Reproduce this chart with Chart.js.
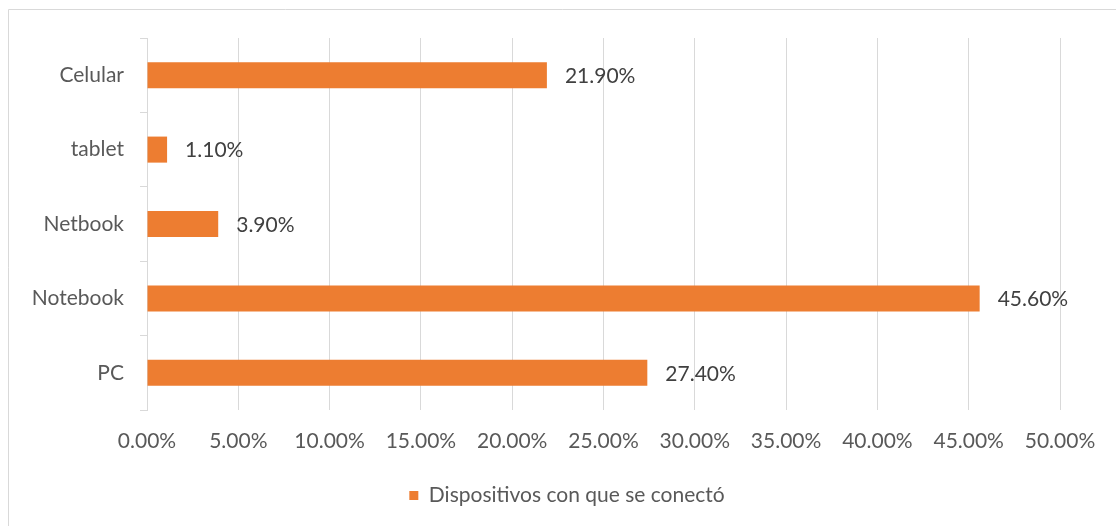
<!DOCTYPE html>
<html>
<head>
<meta charset="utf-8">
<script src="https://cdn.jsdelivr.net/npm/chart.js@4"></script>
<style>
  html, body { margin: 0; padding: 0; background: #fff; }
  #wrap { width: 1116px; height: 526px; }
</style>
</head>
<body>
<div id="wrap"><canvas id="miGrafica"></canvas></div>
<script>
// datos de la gráfica
var categorias = ["Celular", "tablet", "Netbook", "Notebook", "PC"];
var valores = [21.9, 1.1, 3.9, 45.6, 27.4];
var serie = "Dispositivos con que se conectó";
var ticksX = [0, 5, 10, 15, 20, 25, 30, 35, 40, 45, 50];

var naranja = "#ED7D31";
var gris = "#d9d9d9";
var fuente = "Lato, 'Open Sans', sans-serif";

// marco del gráfico (borde superior e izquierdo)
var marco = {
  id: "marco",
  beforeDraw: function(chart) {
    var c = chart.ctx;
    c.save();
    c.strokeStyle = gris;
    c.lineWidth = 1;
    c.beginPath();
    c.moveTo(8.5, chart.height);
    c.lineTo(8.5, 9.5);
    c.lineTo(chart.width, 9.5);
    c.stroke();
    c.restore();
  }
};

// centra la leyenda en todo el lienzo (no solo en el área con padding)
var centrarLeyenda = {
  id: "centrarLeyenda",
  afterLayout: function(chart) {
    var l = chart.legend;
    if (!l) return;
    var dx = 37;
    l.left += dx;
    l.right += dx;
    if (l.legendHitBoxes) {
      l.legendHitBoxes.forEach(function(h) { h.left += dx; });
    }
  }
};

// etiquetas de datos al final de cada barra
var etiquetas = {
  id: "etiquetas",
  afterDatasetsDraw: function(chart) {
    var c = chart.ctx;
    var meta = chart.getDatasetMeta(0);
    c.save();
    c.font = "21px " + fuente;
    c.fillStyle = "#404040";
    c.textAlign = "left";
    c.textBaseline = "middle";
    meta.data.forEach(function(bar, i) {
      c.fillText(valores[i].toFixed(2) + "%", bar.x + 18, bar.y + 1);
    });
    c.restore();
  }
};

document.addEventListener("DOMContentLoaded", function() {
  var ctx = document.getElementById("miGrafica").getContext("2d");

  var data = {
    labels: categorias,
    datasets: [{
      label: serie,
      backgroundColor: naranja,
      borderWidth: 0,
      data: valores,
      categoryPercentage: 1,
      barPercentage: 0.35
    }]
  };

  var options = {
    indexAxis: "y",
    responsive: true,
    maintainAspectRatio: false,
    animation: false,
    layout: { padding: { top: 38, right: 56, bottom: 10, left: 0 } },
    plugins: {
      tooltip: { enabled: false },
      legend: {
        position: "bottom",
        labels: {
          boxWidth: 9,
          boxHeight: 9,
          color: "#595959",
          font: { family: fuente, size: 21 },
          padding: 10
        }
      }
    },
    scales: {
      x: {
        min: 0,
        max: 50,
        afterBuildTicks: function(axis) {
          axis.ticks = ticksX.map(function(v) { return { value: v }; });
        },
        afterFit: function(axis) { axis.height = 65; },
        grid: { color: gris, drawTicks: false },
        border: { display: false },
        ticks: {
          color: "#595959",
          font: { family: fuente, size: 21 },
          padding: 19,
          callback: function(v) { return Number(v).toFixed(2) + "%"; }
        }
      },
      y: {
        afterFit: function(axis) { axis.width = 147; },
        grid: { offset: true, drawOnChartArea: false, tickLength: 7, color: gris },
        border: { display: true, color: gris },
        ticks: {
          color: "#595959",
          font: { family: fuente, size: 21 },
          padding: 16
        }
      }
    }
  };

  var myChart = new Chart(ctx, {
    type: "bar",
    data: data,
    options: options,
    plugins: [marco, centrarLeyenda, etiquetas]
  });
});
</script>
</body>
</html>
